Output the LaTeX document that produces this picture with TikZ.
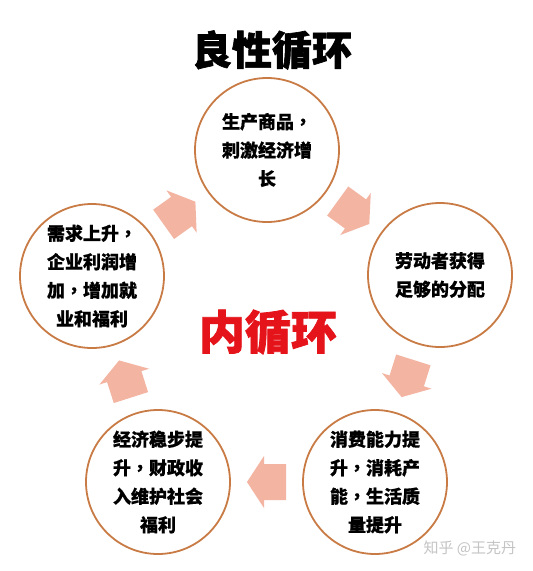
\documentclass[tikz,border=0pt]{standalone}
\usepackage{fontspec}
\usetikzlibrary{calc}
\newfontfamily\cjk[BoldFeatures={FakeBold=0.6}]{Noto Sans CJK SC}
\newfontfamily\cjkplain{Noto Sans CJK SC}
\newfontfamily\cjktc[BoldFeatures={FakeBold=0.6}]{Noto Sans CJK TC}
\newfontfamily\cjkheavy[BoldFeatures={FakeBold=1.6}]{Noto Sans CJK SC}
\newcommand\zcomma{{\cjktc\bfseries ，}}
\definecolor{ringcol}{HTML}{C97B45}
\definecolor{arrowcol}{HTML}{F3B5A2}
\definecolor{redtxt}{HTML}{E5141A}
\definecolor{marktxt}{HTML}{C4C4C4}
\tikzset{
  ring/.style={circle, draw=ringcol, line width=1.8pt, minimum size=144pt, inner sep=0pt,
    align=center, font=\cjk\bfseries\fontsize{18}{28.5}\selectfont},
  blockarrow/.pic={\fill[arrowcol] (19.5,0) -- (2.5,26) -- (2.5,18) -- (-19.5,18) -- (-19.5,-18) -- (2.5,-18) -- (2.5,-26) -- cycle;}
}
\begin{document}
\begin{tikzpicture}[x=1pt,y=-1pt]
\useasboundingbox[fill=white] (0,0) rectangle (533,571);
\node[font=\cjkheavy\bfseries\fontsize{40}{44}\selectfont] (title) at (272,50) {良性循环};
\node[font=\cjkheavy\bfseries\fontsize{46}{50}\selectfont, text=redtxt] (inner) at (268,332) {内循环};
\node[ring] (c1) at (267,150) {生产商品\zcomma\\刺激经济增\\长};
\node[ring] (c2) at (440,275) {劳动者获得\\足够的分配};
\node[ring] (c3) at (375,482) {消费能力提\\升\zcomma 消耗产\\能\zcomma 生活质\\量提升};
\node[ring] (c4) at (158,482) {经济稳步提\\升\zcomma 财政收\\入维护社会\\福利};
\node[ring] (c5) at (92,276) {需求上升\zcomma\\企业利润增\\加\zcomma 增加就\\业和福利};
\pic[rotate=-36] at ($(c1)!0.5!(c2)$) {blockarrow};
\pic[rotate=-107.5] at ($(c2)!0.5!(c3)$) {blockarrow};
\pic[rotate=180] at ($(c3)!0.5!(c4)$) {blockarrow};
\pic[rotate=107.7] at ($(c4)!0.5!(c5)$) {blockarrow};
\pic[rotate=35.5] at ($(c5)!0.5!(c1)$) {blockarrow};
\node[anchor=west, font=\cjkplain\fontsize{15}{18}\selectfont, text=marktxt] (mark) at (420,548) {知乎 @王克丹};
\end{tikzpicture}
\end{document}
